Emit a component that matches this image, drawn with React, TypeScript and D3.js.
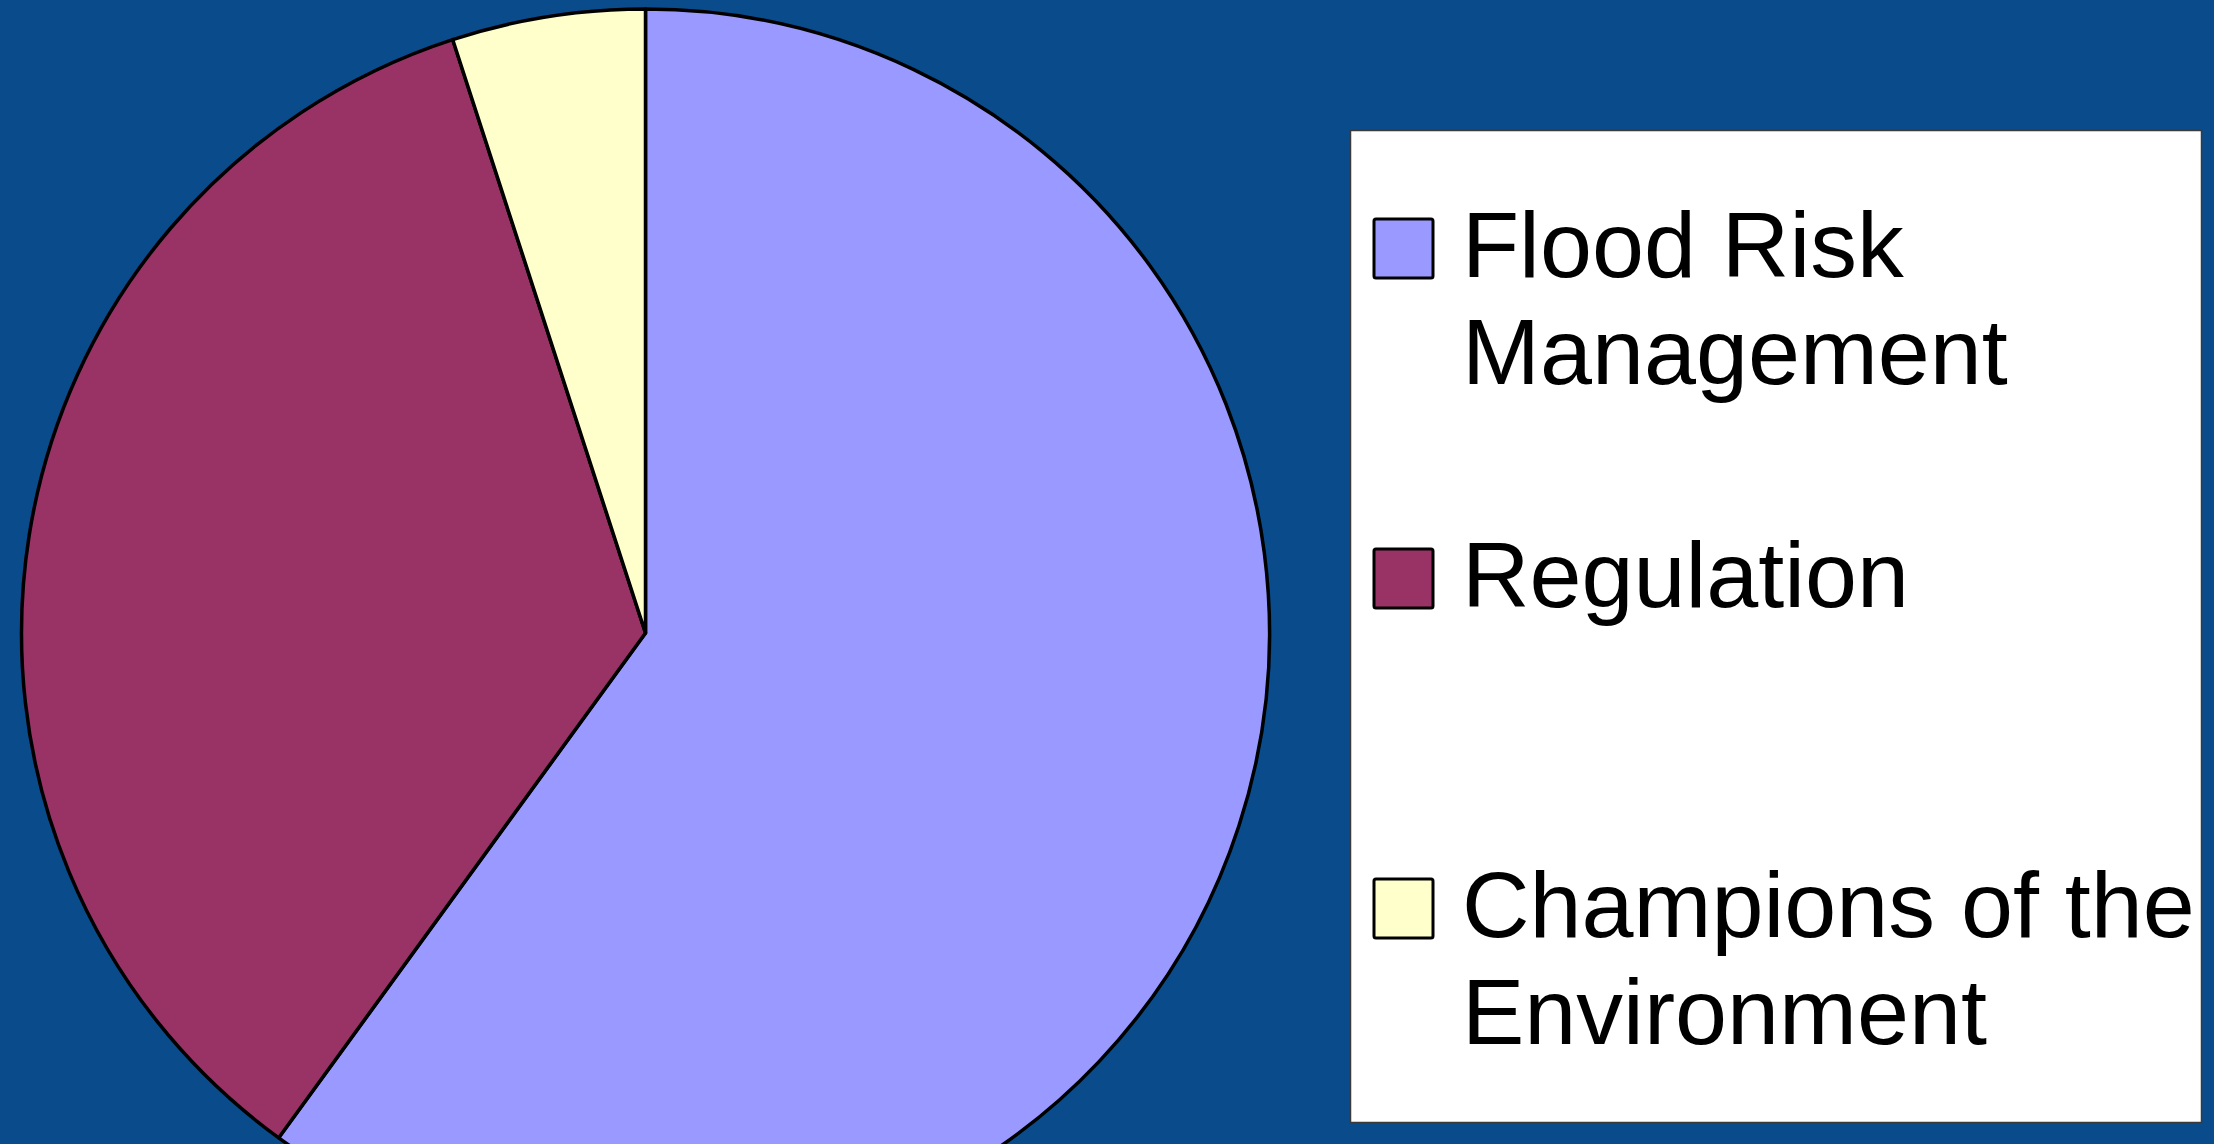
import React, { useEffect } from "react";
import * as d3 from "d3";

const categories = ["Flood Risk Management", "Regulation", "Champions of the Environment"];
const labelLines = [["Flood Risk", "Management"], ["Regulation"], ["Champions of the", "Environment"]];
const values = [60, 35, 5];
const colors = ["#9999FF", "#993366", "#FFFFCC"];

const W = 2214;
const H = 1144;

export default function App() {
  useEffect(() => {
    document.body.style.margin = "0";
  }, []);

  const cx = 645.5;
  const cy = 633;
  const r = 624;

  const pie = d3.pie<number>().sort(null).value((d) => d).startAngle(0).endAngle(2 * Math.PI);
  const arcs = pie(values);
  const arcGen = d3.arc<d3.PieArcDatum<number>>().innerRadius(0).outerRadius(r);

  const legendBaselines = [277, 607, 937];
  const lineH = 107;
  const fontSize = 93.5;
  const textX = 1462;

  return (
    <svg width={W} height={H} style={{ display: "block" }} xmlns="http://www.w3.org/2000/svg">
      <rect x={0} y={0} width={W} height={H} fill="#0A4C8B" />
      <g transform={`translate(${cx},${cy})`}>
        {arcs.map((a, i) => (
          <path key={categories[i]} d={arcGen(a) || ""} fill={colors[i]} stroke="#000" strokeWidth={3.5} strokeLinejoin="round" />
        ))}
      </g>
      <rect x={1350.5} y={130.5} width={851} height={992} fill="#FFFFFF" stroke="#3a3a3a" strokeWidth={1.5} />
      {categories.map((c, i) => {
        const base = legendBaselines[i];
        return (
          <g key={c}>
            <rect x={1374} y={base - 58} width={59} height={59} rx={2} fill={colors[i]} stroke="#000" strokeWidth={3} />
            <text x={textX} y={base} fontFamily="'Liberation Sans', Arial, sans-serif" fontSize={fontSize} fill="#000">
              {labelLines[i].map((ln, j) => (
                <tspan key={j} x={textX} y={base + j * lineH}>
                  {ln}
                </tspan>
              ))}
            </text>
          </g>
        );
      })}
    </svg>
  );
}
